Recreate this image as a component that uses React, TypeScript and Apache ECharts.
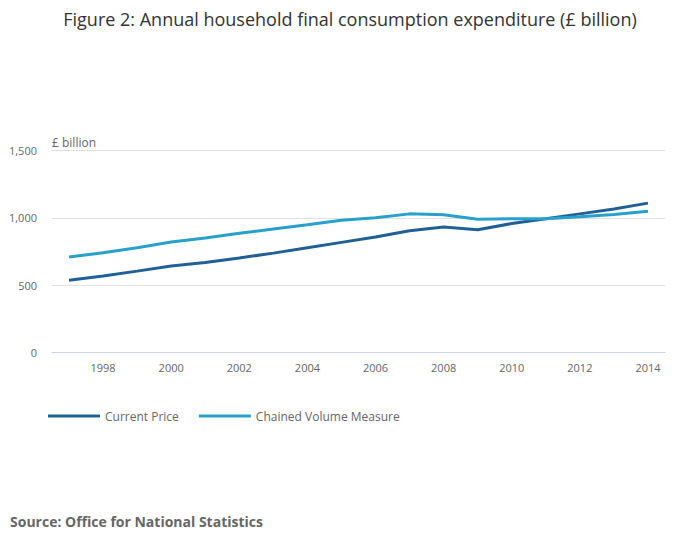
import React, { useEffect, useRef } from "react";
import * as echarts from "echarts";

const years = ["1997","1998","1999","2000","2001","2002","2003","2004","2005","2006","2007","2008","2009","2010","2011","2012","2013","2014"];
const currentPrice = [536, 568, 604, 642, 668, 702, 738, 778, 818, 858, 905, 932, 912, 958, 994, 1030, 1066, 1110];
const chainedVolume = [709, 740, 778, 821, 850, 885, 918, 949, 982, 1001, 1030, 1024, 990, 994, 993, 1008, 1025, 1050];
const yTicks = [0, 500, 1000, 1500];

const FONT = "'Open Sans', 'Noto Sans', sans-serif";

export default function App() {
  const ref = useRef<HTMLDivElement>(null);
  useEffect(() => {
    if (!ref.current) return;
    const chart = echarts.init(ref.current, undefined, { renderer: "svg" });
    const odd = (i: number) => i % 2 === 1;
    chart.setOption({
      animation: false,
      backgroundColor: "#ffffff",
      textStyle: { fontFamily: FONT },
      title: {
        text: "Figure 2: Annual household final consumption expenditure (£ billion)",
        left: "center",
        top: 5,
        textStyle: { fontFamily: FONT, fontSize: 18, fontWeight: "normal", color: "#333333" },
      },
      grid: { left: 52, right: 35, top: 150.7, bottom: 196.7, containLabel: false },
      legend: {
        left: 48,
        top: 410,
        padding: 0,
        itemWidth: 52,
        itemHeight: 3,
        itemGap: 20,
        icon: "rect",
        textStyle: { fontFamily: FONT, fontSize: 12, color: "#666666" },
        data: ["Current Price", "Chained Volume Measure"],
      },
      xAxis: {
        type: "category",
        data: years,
        boundaryGap: true,
        axisLine: { lineStyle: { color: "#c7d4e8", width: 1 } },
        axisTick: { alignWithLabel: true, interval: odd, length: 8, lineStyle: { color: "#c7d4e8" } },
        axisLabel: { interval: odd, color: "#666666", fontSize: 11, fontFamily: FONT, margin: 10 },
        splitLine: { show: false },
      },
      yAxis: {
        type: "value",
        min: yTicks[0],
        max: yTicks[yTicks.length - 1],
        interval: 500,
        axisLine: { show: false },
        axisTick: { show: false },
        axisLabel: {
          color: "#666666",
          fontSize: 11,
          fontFamily: FONT,
          margin: 15,
          formatter: (v: number) => v.toLocaleString("en-GB"),
        },
        splitLine: { lineStyle: { color: "#e0e0e0", width: 1 } },
      },
      graphic: [
        {
          type: "text",
          left: 52,
          top: 136,
          style: { text: "£ billion", fontFamily: FONT, fontSize: 12, fill: "#666666" },
        },
        {
          type: "text",
          left: 10,
          top: 514,
          style: { text: "Source: Office for National Statistics", fontFamily: FONT, fontSize: 14, fontWeight: "bold", fill: "#666666" },
        },
      ],
      series: [
        {
          name: "Current Price",
          type: "line",
          data: currentPrice,
          showSymbol: false,
          symbol: "none",
          lineStyle: { color: "#206095", width: 3 },
          itemStyle: { color: "#206095" },
        },
        {
          name: "Chained Volume Measure",
          type: "line",
          data: chainedVolume,
          showSymbol: false,
          symbol: "none",
          lineStyle: { color: "#27a0cc", width: 3 },
          itemStyle: { color: "#27a0cc" },
        },
      ],
    });
    return () => chart.dispose();
  }, []);
  return <div ref={ref} style={{ position: "fixed", left: 0, top: 0, width: 700, height: 549 }} />;
}
